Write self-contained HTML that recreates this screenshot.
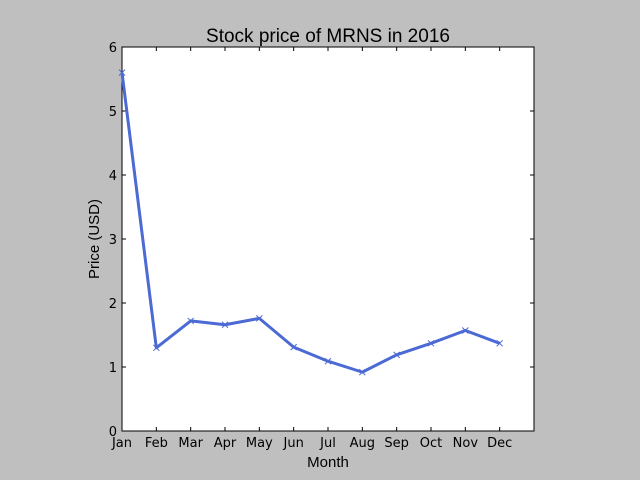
<!DOCTYPE html>
<html><head><meta charset="utf-8"><style>
body{margin:0;background:#bfbfbf;}
svg{display:block;font-family:"DejaVu Sans","Liberation Sans",sans-serif;}
</style></head><body>
<svg id="c" width="640" height="480">
<rect x="0" y="0" width="640" height="480" fill="#bfbfbf"/>
<rect x="122" y="47" width="412" height="384" fill="#fff" stroke="#000" stroke-width="1"/>
<text x="328" y="42" text-anchor="middle" font-size="19" font-family="Liberation Sans, sans-serif">Stock price of MRNS in 2016</text>
<text x="328" y="467" text-anchor="middle" font-size="15" font-family="Liberation Sans, sans-serif">Month</text>
<text transform="translate(99,239) rotate(-90)" text-anchor="middle" font-size="15" font-family="Liberation Sans, sans-serif">Price (USD)</text>
<g id="ax"></g>
</svg>
<script>
const months=["Jan","Feb","Mar","Apr","May","Jun","Jul","Aug","Sep","Oct","Nov","Dec"];
const prices=[5.6,1.3,1.72,1.66,1.76,1.31,1.09,0.92,1.19,1.37,1.57,1.37];
const yTicks=[0,1,2,3,4,5,6];
const X0=122,X1=534,Y0=431,Y1=47;
const xs=i=>X0+(X1-X0)*i/12;
const ys=v=>Y0-(Y0-Y1)*v/6;
const g=document.getElementById('ax');
const NS='http://www.w3.org/2000/svg';
function mk(t,a){const e=document.createElementNS(NS,t);for(const k in a)e.setAttribute(k,a[k]);g.appendChild(e);return e;}
yTicks.forEach(v=>{
  const y=ys(v);
  const t1=mk('line',{x1:X0,x2:X0+4,y1:y,y2:y,stroke:'#000'});
  
  
  mk('line',{x1:X1-4,x2:X1,y1:y,y2:y,stroke:'#000'});
  const l=mk('text',{x:X0-5,y:y+5,'text-anchor':'end','font-size':'13'});
  l.textContent=v;
  
  
});
months.forEach((m,i)=>{
  const x=xs(i);
  const t=mk('line',{x1:x,x2:x,y1:Y0,y2:Y0-4,stroke:'#000'});
  
  
  mk('line',{x1:x,x2:x,y1:Y1,y2:Y1+4,stroke:'#000'});
  const l=mk('text',{x:x,y:Y0+16,'text-anchor':'middle','font-size':'13'});
  l.textContent=m;
  
  
});
const pts=prices.map((v,i)=>xs(i)+','+ys(v)).join(' ');
const line=mk('polyline',{points:pts,fill:'none',stroke:'#4c6ad4','stroke-width':'3','stroke-linejoin':'round'});


prices.forEach((v,i)=>{
  const x=xs(i),y=ys(v);
  const p=mk('path',{d:`M${x-3},${y-3}L${x+3},${y+3}M${x-3},${y+3}L${x+3},${y-3}`,stroke:'#4c6ad4','stroke-width':'1'});
  
  
});
</script>
</body></html>
